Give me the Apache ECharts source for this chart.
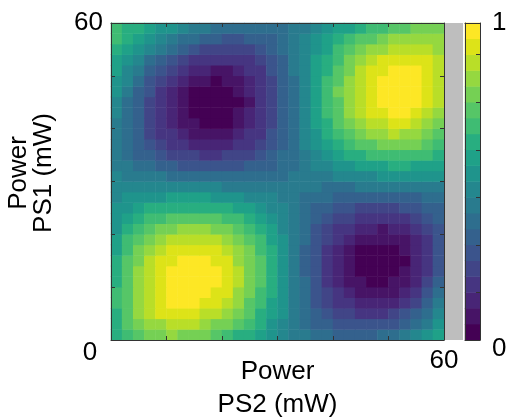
<!DOCTYPE html>
<html>
<head>
<meta charset="utf-8">
<title>PS1 / PS2 power map</title>
<script src="https://cdn.jsdelivr.net/npm/echarts/dist/echarts.min.js"></script>
<style>
    html, body { margin: 0; padding: 0; background: #fff; }
    #chart { width: 508px; height: 419px; }
</style>
</head>
<body>
<div id="chart"></div>
<script>
// PS2 功率 (横轴, 每格中心, mW)
var ps2Power = [1, 3, 5, 7, 9, 11, 13, 15, 17, 19, 21, 23, 25, 27, 29,
                31, 33, 35, 37, 39, 41, 43, 45, 47, 49, 51, 53, 55, 57, 59];
// PS1 功率 (纵轴, 每格中心, mW)
var ps1Power = [1, 3, 5, 7, 9, 11, 13, 15, 17, 19, 21, 23, 25, 27, 29,
                31, 33, 35, 37, 39, 41, 43, 45, 47, 49, 51, 53, 55, 57, 59];

// 归一化输出, 每行对应一个 PS1 值 (从下往上), 每列对应一个 PS2 值
var transmission = [
    [0.62,0.67,0.72,0.75,0.78,0.80,0.79,0.77,0.75,0.72,0.68,0.64,0.60,0.55,0.51,0.47,0.43,0.40,0.37,0.35,0.33,0.33,0.33,0.34,0.36,0.38,0.42,0.46,0.51,0.56],
    [0.63,0.70,0.76,0.81,0.84,0.86,0.86,0.85,0.82,0.79,0.75,0.71,0.65,0.60,0.54,0.49,0.43,0.38,0.34,0.30,0.28,0.26,0.25,0.26,0.27,0.29,0.33,0.38,0.44,0.51],
    [0.64,0.72,0.80,0.85,0.90,0.91,0.91,0.91,0.89,0.86,0.81,0.76,0.70,0.64,0.57,0.50,0.43,0.37,0.31,0.27,0.23,0.20,0.18,0.18,0.19,0.21,0.25,0.30,0.37,0.45],
    [0.65,0.74,0.81,0.87,0.93,0.95,0.96,0.96,0.94,0.91,0.86,0.81,0.74,0.67,0.59,0.51,0.44,0.36,0.29,0.23,0.18,0.15,0.13,0.12,0.12,0.14,0.18,0.24,0.31,0.40],
    [0.65,0.74,0.82,0.89,0.94,0.97,0.98,0.99,0.97,0.94,0.90,0.84,0.77,0.69,0.61,0.52,0.44,0.35,0.28,0.21,0.15,0.11,0.08,0.07,0.07,0.09,0.12,0.18,0.26,0.35],
    [0.64,0.73,0.82,0.89,0.94,0.98,1.00,1.00,0.99,0.96,0.91,0.85,0.78,0.70,0.62,0.53,0.44,0.35,0.27,0.19,0.13,0.08,0.05,0.03,0.03,0.05,0.08,0.14,0.22,0.31],
    [0.63,0.72,0.81,0.89,0.93,0.97,0.99,1.00,0.98,0.96,0.91,0.86,0.79,0.71,0.62,0.53,0.43,0.34,0.26,0.18,0.12,0.07,0.03,0.01,0.01,0.02,0.05,0.11,0.19,0.28],
    [0.61,0.71,0.78,0.86,0.91,0.94,0.96,0.97,0.96,0.94,0.90,0.84,0.78,0.70,0.61,0.52,0.43,0.34,0.26,0.18,0.12,0.07,0.03,0.01,0.00,0.01,0.04,0.10,0.18,0.27],
    [0.59,0.67,0.76,0.82,0.87,0.90,0.92,0.93,0.93,0.90,0.87,0.82,0.75,0.68,0.60,0.52,0.43,0.34,0.27,0.19,0.13,0.08,0.04,0.02,0.02,0.03,0.05,0.10,0.17,0.26],
    [0.56,0.65,0.72,0.78,0.82,0.85,0.87,0.88,0.87,0.85,0.82,0.78,0.72,0.65,0.58,0.50,0.43,0.35,0.28,0.21,0.15,0.11,0.07,0.05,0.05,0.06,0.08,0.12,0.19,0.27],
    [0.54,0.61,0.68,0.72,0.76,0.79,0.80,0.81,0.81,0.79,0.76,0.72,0.67,0.62,0.55,0.49,0.42,0.36,0.29,0.24,0.19,0.15,0.12,0.10,0.09,0.10,0.12,0.16,0.21,0.28],
    [0.52,0.58,0.63,0.66,0.69,0.71,0.73,0.73,0.73,0.71,0.69,0.66,0.62,0.57,0.52,0.47,0.42,0.36,0.31,0.27,0.23,0.20,0.17,0.16,0.16,0.16,0.18,0.21,0.25,0.31],
    [0.50,0.54,0.57,0.60,0.62,0.63,0.64,0.64,0.64,0.63,0.61,0.59,0.56,0.53,0.49,0.45,0.41,0.37,0.34,0.31,0.28,0.26,0.24,0.23,0.23,0.24,0.25,0.27,0.31,0.34],
    [0.49,0.50,0.52,0.53,0.54,0.55,0.55,0.55,0.55,0.54,0.53,0.51,0.49,0.47,0.45,0.43,0.41,0.39,0.37,0.35,0.33,0.32,0.32,0.31,0.31,0.32,0.33,0.34,0.37,0.39],
    [0.46,0.47,0.47,0.47,0.47,0.47,0.46,0.46,0.45,0.45,0.44,0.43,0.43,0.42,0.41,0.41,0.40,0.40,0.40,0.39,0.39,0.39,0.40,0.40,0.40,0.41,0.42,0.42,0.43,0.44],
    [0.45,0.43,0.42,0.41,0.40,0.39,0.38,0.37,0.36,0.36,0.36,0.36,0.36,0.37,0.38,0.39,0.40,0.41,0.43,0.44,0.45,0.47,0.48,0.49,0.50,0.50,0.51,0.51,0.50,0.50],
    [0.43,0.41,0.38,0.35,0.33,0.31,0.29,0.28,0.27,0.27,0.27,0.28,0.30,0.32,0.34,0.37,0.39,0.43,0.46,0.49,0.51,0.54,0.56,0.58,0.59,0.60,0.60,0.59,0.58,0.56],
    [0.43,0.38,0.34,0.31,0.27,0.24,0.22,0.20,0.19,0.19,0.20,0.22,0.24,0.27,0.31,0.35,0.39,0.44,0.48,0.53,0.57,0.61,0.64,0.66,0.68,0.69,0.69,0.68,0.65,0.62],
    [0.43,0.37,0.32,0.27,0.23,0.19,0.16,0.14,0.13,0.12,0.14,0.16,0.19,0.23,0.28,0.33,0.39,0.45,0.51,0.57,0.62,0.67,0.71,0.74,0.76,0.77,0.77,0.75,0.72,0.67],
    [0.43,0.36,0.30,0.24,0.19,0.15,0.11,0.09,0.07,0.07,0.08,0.11,0.15,0.19,0.25,0.32,0.39,0.46,0.53,0.60,0.67,0.72,0.77,0.81,0.83,0.85,0.84,0.82,0.78,0.73],
    [0.44,0.37,0.30,0.23,0.17,0.12,0.08,0.05,0.03,0.03,0.04,0.07,0.11,0.17,0.23,0.31,0.39,0.47,0.55,0.63,0.70,0.77,0.82,0.87,0.89,0.91,0.91,0.88,0.84,0.78],
    [0.46,0.38,0.30,0.23,0.16,0.11,0.06,0.03,0.01,0.01,0.02,0.05,0.10,0.15,0.22,0.30,0.39,0.48,0.56,0.65,0.73,0.80,0.86,0.91,0.94,0.95,0.95,0.93,0.88,0.82],
    [0.48,0.39,0.31,0.24,0.17,0.11,0.07,0.03,0.01,0.00,0.01,0.04,0.09,0.15,0.22,0.30,0.39,0.48,0.57,0.66,0.74,0.82,0.88,0.93,0.97,0.98,0.98,0.96,0.92,0.85],
    [0.50,0.42,0.34,0.26,0.19,0.13,0.08,0.04,0.02,0.01,0.02,0.05,0.10,0.15,0.22,0.30,0.39,0.48,0.57,0.66,0.75,0.82,0.89,0.94,0.98,1.00,1.00,0.98,0.93,0.87],
    [0.53,0.45,0.37,0.29,0.23,0.17,0.12,0.08,0.05,0.04,0.05,0.08,0.11,0.17,0.23,0.31,0.39,0.48,0.57,0.66,0.74,0.81,0.88,0.93,0.97,0.99,1.00,0.98,0.94,0.88],
    [0.56,0.48,0.41,0.34,0.27,0.22,0.17,0.13,0.10,0.09,0.09,0.11,0.15,0.19,0.25,0.32,0.40,0.48,0.56,0.64,0.72,0.79,0.85,0.90,0.94,0.97,0.97,0.96,0.93,0.88],
    [0.59,0.52,0.45,0.39,0.33,0.28,0.23,0.19,0.17,0.15,0.15,0.16,0.19,0.23,0.28,0.33,0.40,0.47,0.55,0.62,0.69,0.76,0.81,0.86,0.90,0.93,0.94,0.93,0.91,0.86],
    [0.62,0.56,0.51,0.45,0.40,0.35,0.31,0.27,0.24,0.22,0.22,0.22,0.24,0.27,0.30,0.35,0.40,0.46,0.53,0.59,0.65,0.71,0.76,0.81,0.84,0.87,0.88,0.89,0.87,0.84],
    [0.65,0.60,0.56,0.51,0.47,0.43,0.39,0.35,0.32,0.30,0.29,0.29,0.30,0.31,0.34,0.37,0.41,0.45,0.50,0.55,0.60,0.65,0.70,0.74,0.77,0.80,0.82,0.83,0.83,0.81],
    [0.67,0.64,0.61,0.58,0.54,0.51,0.48,0.44,0.42,0.39,0.37,0.36,0.36,0.36,0.37,0.39,0.41,0.44,0.48,0.51,0.55,0.59,0.62,0.66,0.69,0.72,0.74,0.76,0.77,0.77]
];

// 等值分级 (20 级) 与色标中心值
var levelEdges = [0, 0.05, 0.1, 0.15, 0.2, 0.25, 0.3, 0.35, 0.4, 0.45, 0.5,
                  0.55, 0.6, 0.65, 0.7, 0.75, 0.8, 0.85, 0.9, 0.95, 1];
var cbarLevels = [0.025, 0.075, 0.125, 0.175, 0.225, 0.275, 0.325, 0.375, 0.425, 0.475,
                  0.525, 0.575, 0.625, 0.675, 0.725, 0.775, 0.825, 0.875, 0.925, 0.975];
var powerTickLabels = ['0', '60'];
var cbarTickLabels = ['0', '1'];

// viridis
var levelColors = ['#440154', '#471466', '#482576', '#463581', '#414587',
                   '#3b548c', '#34618d', '#2e6e8e', '#297b8e', '#24878e',
                   '#1f948c', '#1fa188', '#28ae80', '#3fbc73', '#56c667',
                   '#75d054', '#95d840', '#b9de28', '#dde318', '#fde725'];

var font = 'Liberation Sans, Arial, sans-serif';

var heatData = [];
transmission.forEach(function (row, j) {
    row.forEach(function (v, i) {
        heatData.push([i, j, v]);
    });
});

var cbarData = cbarLevels.map(function (v, k) {
    return [0, k, v];
});

var pieces = [];
for (var k = 0; k < levelColors.length; k++) {
    var p = {gte: levelEdges[k], color: levelColors[k]};
    if (k === levelColors.length - 1) {
        p.lte = levelEdges[k + 1];
    } else {
        p.lt = levelEdges[k + 1];
    }
    pieces.push(p);
}

// 边框轴: 线 + 向内刻度
function frameAxis(pos, showLabel, labels, grid) {
    var isMain = grid === 0;
    return {
        type: 'value',
        gridIndex: grid,
        position: pos,
        min: 0,
        max: isMain ? 60 : 1,
        interval: isMain ? 10 : 0.15,
        z: 10,
        axisLine: {show: true, onZero: false, lineStyle: {color: '#333', width: 1}},
        axisTick: {show: isMain || pos === 'right', inside: true, length: 4, lineStyle: {color: '#333'}},
        splitLine: {show: false},
        axisLabel: {
            show: showLabel,
            fontSize: 26,
            fontFamily: font,
            color: '#000',
            margin: isMain ? 8 : 12,
            formatter: function (v) {
                var s = String(v);
                return labels.indexOf(s) > 0 ? s : '';
            }
        }
    };
}

var chart = echarts.init(document.getElementById('chart'));

var xBottom = frameAxis('bottom', true, powerTickLabels, 0);
xBottom.name = 'Power\nPS2 (mW)';
xBottom.nameLocation = 'middle';
xBottom.nameGap = 15;
xBottom.nameMoveOverlap = false;
xBottom.nameTextStyle = {fontSize: 26, fontFamily: font, color: '#000', lineHeight: 33};

var yLeft = frameAxis('left', true, powerTickLabels, 0);
yLeft.name = 'Power\nPS1 (mW)';
yLeft.nameLocation = 'middle';
yLeft.nameGap = 55;
yLeft.nameMoveOverlap = false;
yLeft.nameTextStyle = {fontSize: 26, fontFamily: font, color: '#000', lineHeight: 25, padding: [0, 0, 0, 17]};

var cbarRight = frameAxis('right', true, cbarTickLabels, 1);
cbarRight.axisLabel.formatter = function (v) {
    if (v === 0) return '{low|' + cbarTickLabels[0] + '}';
    if (v === 1) return cbarTickLabels[1];
    return '';
};
cbarRight.axisLabel.rich = {
    low: {fontSize: 26, fontFamily: font, color: '#000', padding: [18, 0, 0, 0]}
};

var option = {
    animation: false,
    backgroundColor: '#fff',
    grid: [
        {left: 111, top: 23, width: 333, height: 317, containLabel: false, outerBoundsMode: 'none'},
        {left: 465, top: 23, width: 15, height: 317, containLabel: false, outerBoundsMode: 'none'}
    ],
    xAxis: [
        {type: 'category', gridIndex: 0, data: ps2Power, show: false},
        xBottom,
        frameAxis('top', false, powerTickLabels, 0),
        {type: 'category', gridIndex: 1, data: ['c'], show: false},
        frameAxis('bottom', false, cbarTickLabels, 1),
        frameAxis('top', false, cbarTickLabels, 1)
    ],
    yAxis: [
        {type: 'category', gridIndex: 0, data: ps1Power, show: false},
        yLeft,
        frameAxis('right', false, powerTickLabels, 0),
        {type: 'category', gridIndex: 1, data: cbarLevels, show: false},
        frameAxis('left', false, cbarTickLabels, 1),
        cbarRight
    ],
    visualMap: {
        type: 'piecewise',
        show: false,
        dimension: 2,
        seriesIndex: [0, 1],
        pieces: pieces
    },
    graphic: [
        {
            type: 'rect',
            left: 445, top: 23,
            shape: {width: 18, height: 317},
            style: {fill: '#bebebe'},
            silent: true
        },
        {
            type: 'text',
            x: 90, y: 353,
            style: {
                text: powerTickLabels[0],
                font: '26px ' + font,
                fill: '#000',
                align: 'center',
                verticalAlign: 'middle'
            }
        }
    ],
    series: [
        {
            type: 'heatmap',
            xAxisIndex: 0,
            yAxisIndex: 0,
            data: heatData,
            emphasis: {disabled: true}
        },
        {
            type: 'heatmap',
            xAxisIndex: 3,
            yAxisIndex: 3,
            data: cbarData,
            emphasis: {disabled: true}
        }
    ]
};

chart.setOption(option);
</script>
</body>
</html>
